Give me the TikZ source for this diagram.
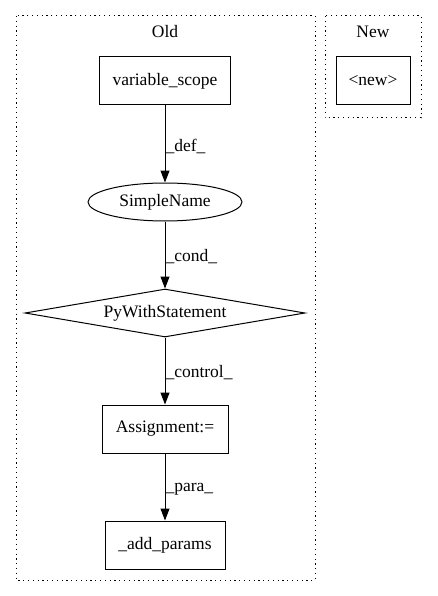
\documentclass[tikz,border=0pt]{standalone}
\usepackage{fontspec}
\setmainfont{Liberation Serif}
\usetikzlibrary{shapes.geometric,arrows.meta}

\begin{document}
\begin{tikzpicture}[x=1pt,y=1pt]
\tikzstyle{every node}+=[inner sep=0pt, font=\fontsize{17.5}{20}\selectfont]
\tikzstyle{box}=[draw, black, line width=1pt, rectangle, minimum height=48pt]
\tikzstyle{cluster}=[black, line width=1pt, dash pattern=on 1.2pt off 3.6pt]
\tikzstyle{flow}=[black, line width=1pt, -{Triangle[length=12pt,width=9pt]}]
\useasboundingbox (0,0) rectangle (437,-596);
% clusters
\draw [cluster] (16,-16) rectangle (315,-580);
\node (oldlabel) at (165,-32) {Old};
\draw [cluster] (325,-16) rectangle (421,-118);
\node (newlabel) at (373,-32) {New};
% nodes
\node [box, minimum width=131pt] (varscope) at (165,-81) {variable\_scope};
\node [box, minimum width=74pt] (newnode) at (373,-81) {<new>};
\node [draw, black, line width=1pt, ellipse, minimum width=154pt, minimum height=38pt] (simplename) at (165,-202) {SimpleName};
\node [draw, black, line width=1pt, diamond, aspect=5.83, minimum width=280pt, minimum height=48pt] (pywith) at (165,-313) {PyWithStatement};
\node [box, minimum width=126pt] (assign) at (165,-429) {Assignment:=};
\node [box, minimum width=120pt] (addparams) at (165,-545) {\_add\_params};
% edges
\draw [flow] (varscope) -- node [right, yshift=-2pt] {\_def\_} (simplename);
\draw [flow] (simplename) -- node [right, yshift=-2pt] {\_cond\_} (pywith);
\draw [flow] (pywith) -- node [right, yshift=-2pt] {\_control\_} (assign);
\draw [flow] (assign) -- node [right, yshift=-2pt] {\_para\_} (addparams);
\end{tikzpicture}
\end{document}
